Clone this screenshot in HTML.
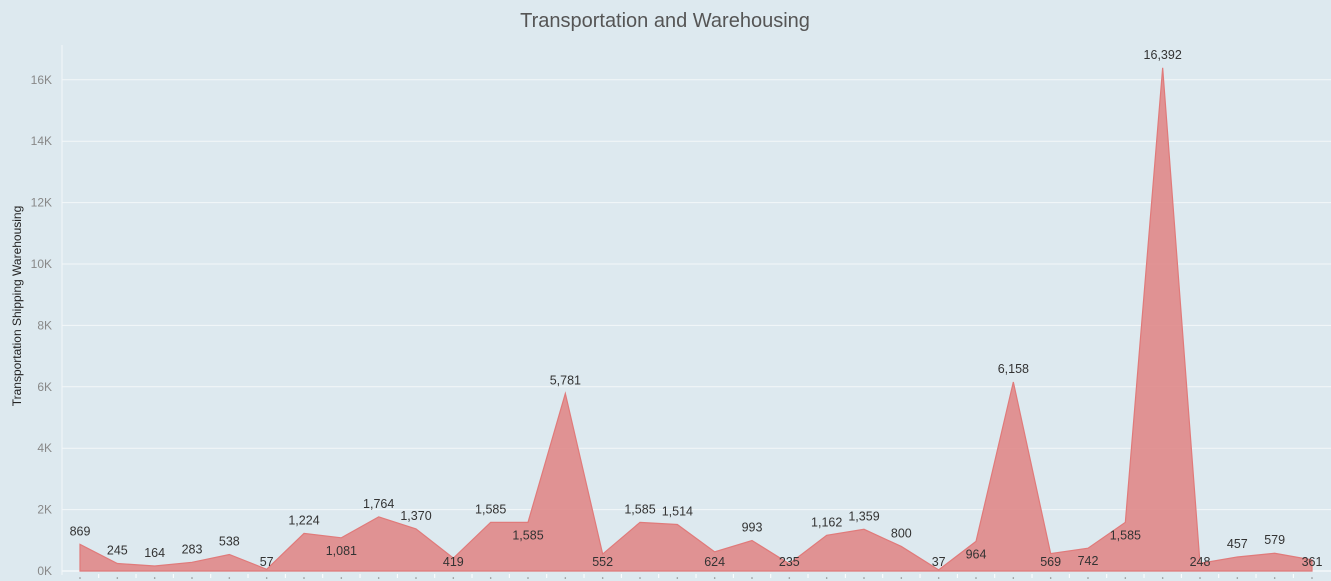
<!DOCTYPE html>
<html><head><meta charset="utf-8"><style>
body{margin:0;background:#dde9ef;font-family:"Liberation Sans",sans-serif;}
svg{display:block}
</style></head><body>
<svg width="1331" height="581" id="c">
<text x="665" y="27" text-anchor="middle" font-size="20" fill="#555">Transportation and Warehousing</text>
<text transform="translate(21,306) rotate(-90)" text-anchor="middle" font-size="12" fill="#222">Transportation Shipping Warehousing</text>
</svg>
<script>
const values=[869,245,164,283,538,57,1224,1081,1764,1370,419,1585,1585,5781,552,1585,1514,624,993,235,1162,1359,800,37,964,6158,569,742,1585,16392,248,457,579,361];
const labelBelow=[0,0,0,0,0,1,0,1,0,0,1,0,1,0,1,0,0,1,0,1,0,0,0,1,1,0,1,1,1,0,1,0,0,1];
const yTicks=[0,2000,4000,6000,8000,10000,12000,14000,16000];
const yTickLabels=["0K","2K","4K","6K","8K","10K","12K","14K","16K"];
const svg=document.getElementById('c');const NS='http://www.w3.org/2000/svg';
const x0=80,x1=1312,yb=571,pxPerUnit=30.7/1000;
const X=i=>x0+i*(x1-x0)/(values.length-1);
const Y=v=>yb-v*pxPerUnit;
function mk(t,a){const e=document.createElementNS(NS,t);for(const k in a)e.setAttribute(k,a[k]);svg.appendChild(e);return e;}
yTicks.forEach((t,i)=>{
 const l=mk('line',{x1:62,x2:1331,y1:Y(t),y2:Y(t),stroke:t===0?'#fff':'#f3f7f9','stroke-width':1});
 
 
 const tx=mk('text',{x:52,y:Y(t)+4,'text-anchor':'end','font-size':12,fill:'#888'});tx.textContent=yTickLabels[i];
 
 
});
const ax=mk('line',{x1:62,x2:62,y1:45,y2:575,stroke:'#f3f7f9'});


let d='M'+X(0)+','+yb;values.forEach((v,i)=>{d+=' L'+X(i)+','+Y(v);});d+=' L'+X(values.length-1)+','+yb+' Z';
const area=mk('path',{d:d,fill:'#e08888','fill-opacity':0.9,stroke:'#e07a7a','stroke-width':1.2});


values.forEach((v,i)=>{
 const tk=mk('circle',{cx:X(i),cy:578,r:0.8,fill:'#888'});
 
 
 if(i<values.length-1){const m=mk('line',{x1:X(i)+18.7,x2:X(i)+18.7,y1:574,y2:578,stroke:'#fff'});
 
 }
 let ly=labelBelow[i]?Math.min(Y(v)+17,566):Y(v)-9;
 const t=mk('text',{x:X(i),y:ly,'text-anchor':'middle','font-size':12.5,fill:'#333'});
 t.textContent=v.toLocaleString('en-US');
 
 
});
</script>
</body></html>
